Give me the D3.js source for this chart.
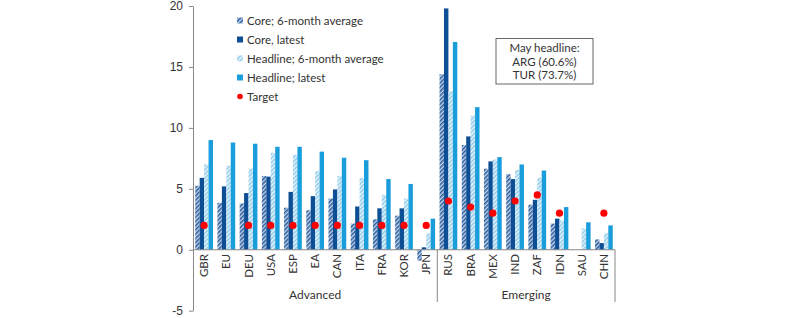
<!DOCTYPE html>
<html>
<head>
<meta charset="utf-8">
<script src="https://cdn.jsdelivr.net/npm/d3@7"></script>
<style>
  body { margin: 0; background: #fff; }
  svg { font-family: Lato, "Open Sans", sans-serif; }
  .axis text { fill: #333; font-size: 12px; }
  .axis path, .axis line { stroke: #888; }
</style>
</head>
<body>
<svg id="chart" width="792" height="318"></svg>
<script>
// chart values
var categories = ["GBR","EU","DEU","USA","ESP","EA","CAN","ITA","FRA","KOR","JPN","RUS","BRA","MEX","IND","ZAF","IDN","SAU","CHN"];
var groupNames = ["Advanced", "Emerging"];
var groupSizes = [11, 8];
var coreAvg    = [5.25,3.85,3.8,6.05,3.45,3.25,4.2,2.15,2.5,2.8,-0.9,14.4,8.6,6.65,6.2,3.7,2.15,null,0.85];
var coreLatest = [5.9,5.2,4.65,6.0,4.75,4.4,4.95,3.55,3.4,3.4,0.2,19.8,9.3,7.25,5.8,4.1,2.55,null,0.55];
var headAvg    = [7.0,6.9,6.65,7.95,7.8,6.45,6.05,5.9,4.5,4.2,1.35,13.0,11.0,7.4,6.55,5.9,2.4,1.75,1.35];
var headLatest = [9.0,8.8,8.7,8.45,8.45,8.05,7.55,7.35,5.8,5.4,2.55,17.05,11.7,7.6,7.0,6.5,3.5,2.25,2.0];
var target     = [2,null,2,2,2,2,2,2,2,2,2,4,3.5,3,4,4.5,3,null,3];
var yTicks = [-5, 0, 5, 10, 15, 20];
var noteLines = ["May headline:", "ARG (60.6%)", "TUR (73.7%)"];

var series = [
  {name: "Core; 6-month average", values: coreAvg, fill: "url(#hatchDark)"},
  {name: "Core, latest", values: coreLatest, fill: "#0d4e94"},
  {name: "Headline; 6-month average", values: headAvg, fill: "url(#hatchLight)"},
  {name: "Headline; latest", values: headLatest, fill: "#1a9ddb"}
];

var svg = d3.select("#chart");

// hatch patterns
var defs = svg.append("defs");
function hatch(id, bg, stroke) {
  var p = defs.append("pattern")
      .attr("id", id)
      .attr("patternUnits", "userSpaceOnUse")
      .attr("width", 3).attr("height", 3)
      .attr("patternTransform", "rotate(45)");
  p.append("rect").attr("width", 3).attr("height", 3).attr("fill", bg);
  p.append("rect").attr("width", 1.6).attr("height", 3).attr("fill", stroke);
}
hatch("hatchDark", "#c9d7ea", "#2b5f9f");
hatch("hatchLight", "#eef7fc", "#8fcbea");

var left = 193, right = 615;
var x = d3.scaleBand().domain(categories).range([left, right])
    .paddingInner(0.2).paddingOuter(0.1);
var xs = d3.scaleBand().domain(d3.range(series.length)).range([0, x.bandwidth()]);
var y = d3.scaleLinear().domain([-5, 20]).range([310.7, 6]);

// y axis
svg.append("g")
    .attr("class", "axis")
    .attr("transform", "translate(" + left + ",0)")
    .call(d3.axisLeft(y).tickValues(yTicks).tickSize(4).tickSizeOuter(0).tickPadding(6)
      .tickFormat(function(d) { return String(d); }));

// bars
series.forEach(function(s, i) {
  svg.append("g").selectAll("rect")
    .data(categories.map(function(c, j) { return {c: c, v: s.values[j]}; })
          .filter(function(d) { return d.v != null; }))
    .enter().append("rect")
    .attr("x", function(d) { return x(d.c) + xs(i); })
    .attr("width", xs.bandwidth())
    .attr("y", function(d) { return y(Math.max(0, d.v)); })
    .attr("height", function(d) { return Math.abs(y(d.v) - y(0)); })
    .attr("fill", s.fill);
});

// zero line and group separators
svg.append("line")
    .attr("x1", left).attr("x2", right)
    .attr("y1", y(0)).attr("y2", y(0))
    .attr("stroke", "#888");

var step = x.step();
var start = 0;
groupNames.forEach(function(g, i) {
  var first = categories[start], last = categories[start + groupSizes[i] - 1];
  var x0 = i === 0 ? left : x(first) - step * x.paddingInner() / 2;
  var x1 = i === groupNames.length - 1 ? right : x(last) + x.bandwidth() + step * x.paddingInner() / 2;
  svg.append("line")
      .attr("x1", x1).attr("x2", x1)
      .attr("y1", y(0)).attr("y2", 302)
      .attr("stroke", "#888");
  svg.append("text")
      .attr("x", (x0 + x1) / 2).attr("y", 299)
      .attr("text-anchor", "middle")
      .attr("font-size", 12).attr("fill", "#333")
      .text(g);
  start += groupSizes[i];
});

// category labels
svg.append("g").selectAll("text")
  .data(categories)
  .enter().append("text")
  .attr("transform", function(d) { return "translate(" + (x(d) + x.bandwidth() / 2) + ",254) rotate(-90)"; })
  .attr("text-anchor", "end")
  .attr("dy", "0.35em")
  .attr("font-size", 11.5).attr("fill", "#333")
  .text(function(d) { return d; });

// target dots
svg.append("g").selectAll("circle")
  .data(categories.map(function(c, j) { return {c: c, v: target[j]}; })
        .filter(function(d) { return d.v != null; }))
  .enter().append("circle")
  .attr("cx", function(d) { return x(d.c) + x.bandwidth() / 2; })
  .attr("cy", function(d) { return y(d.v); })
  .attr("r", 3.6)
  .attr("fill", "#ff0000");

// legend
var legendItems = series.map(function(s) { return {name: s.name, fill: s.fill}; });
legendItems.push({name: "Target", fill: "#ff0000", dot: true});
var lg = svg.append("g").selectAll("g")
  .data(legendItems)
  .enter().append("g")
  .attr("transform", function(d, i) { return "translate(237," + (20.5 + i * 19) + ")"; });
lg.filter(function(d) { return !d.dot; }).append("rect")
  .attr("x", 0).attr("y", -3).attr("width", 6).attr("height", 6)
  .attr("fill", function(d) { return d.fill; });
lg.filter(function(d) { return d.dot; }).append("circle")
  .attr("cx", 3).attr("cy", 0).attr("r", 2.8)
  .attr("fill", function(d) { return d.fill; });
lg.append("text")
  .attr("x", 10).attr("dy", "0.35em")
  .attr("font-size", 11.5).attr("fill", "#333")
  .text(function(d) { return d.name; });

// note box
svg.append("rect")
  .attr("x", 496).attr("y", 38.5).attr("width", 97).attr("height", 45.5)
  .attr("fill", "#fff").attr("stroke", "#666");
svg.append("g").selectAll("text")
  .data(noteLines)
  .enter().append("text")
  .attr("x", 544.5).attr("y", function(d, i) { return 52 + i * 13.5; })
  .attr("text-anchor", "middle")
  .attr("font-size", 11.5).attr("fill", "#333")
  .text(function(d) { return d; });
</script>
</body>
</html>
